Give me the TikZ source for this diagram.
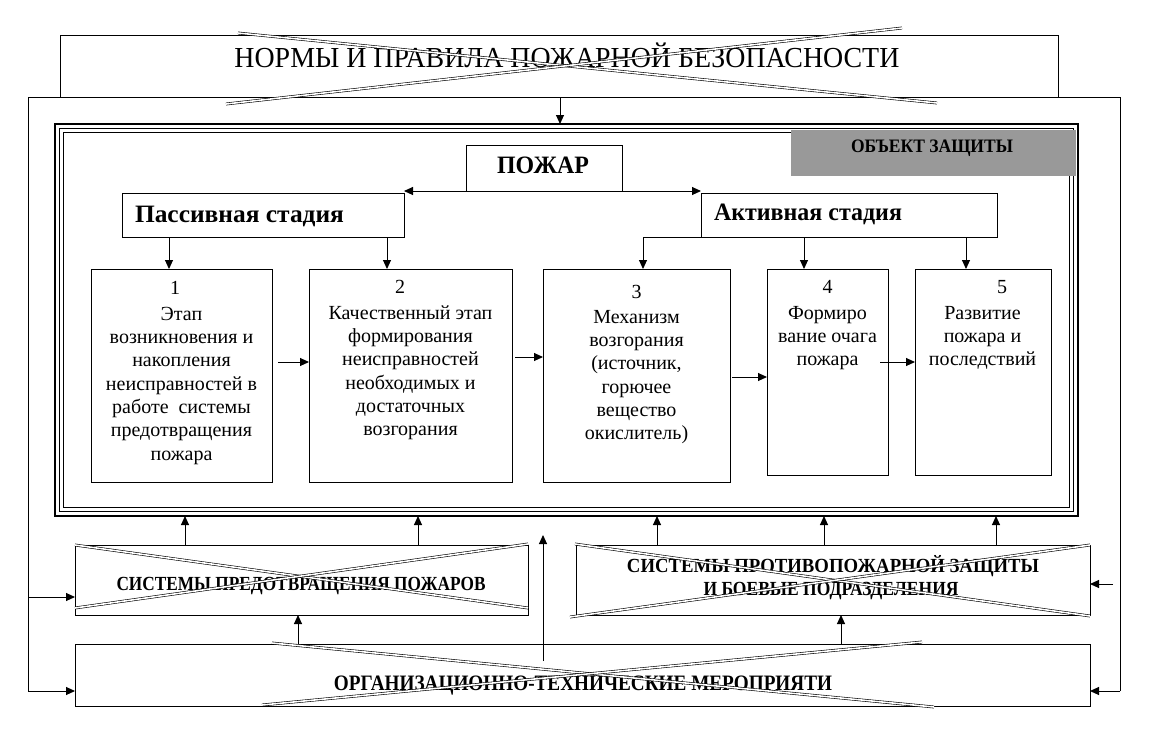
\documentclass[tikz,border=0pt]{standalone}
\usepackage{graphicx}
\usepackage{fontspec}
\setmainfont{Liberation Serif}
\usetikzlibrary{arrows.meta}
\newcommand{\fitw}[2]{\resizebox{#1}{\height}{#2}}
\definecolor{objgray}{RGB}{153,153,153}
\begin{document}
\begin{tikzpicture}[x=1pt,y=-1pt,
  every node/.style={inner sep=0pt, outer sep=0pt},
  box/.style={draw, line width=1pt, anchor=north west},
  arr/.style={line width=1pt, -{Triangle[length=9pt,width=8pt]}},
  ln/.style={line width=1pt},
  xl/.style={line width=0.6pt, double=white, double distance=1.6pt},
  btxt/.style={font=\fontsize{20}{23.3}\selectfont, align=center, anchor=north},
  lbl/.style={anchor=base, font=\bfseries\fontsize{20}{22}\selectfont},
]
\useasboundingbox (0,0) rectangle (1152,732);
\fill[white] (0,0) rectangle (1152,732);

% banner
\node[box, minimum width=998pt, minimum height=62pt] (banner) at (60,35) {};
\node[anchor=base, font=\fontsize{29}{30}\selectfont] (bannert) at (567,67)
  {\fitw{665pt}{НОРМЫ И ПРАВИЛА ПОЖАРНОЙ БЕЗОПАСНОСТИ}};

% outer frame
\coordinate (fL) at (28,691);
\coordinate (fL2) at (28,597);
\coordinate (fR) at (1120,691);
\coordinate (fTL) at (28,97);
\coordinate (fTR) at (1120,97);
\draw[ln] (fL) -- (fTL) -- (fTR) -- (fR);

% inner triple frame
\node[draw, line width=1.6pt, anchor=north west, minimum width=1023pt, minimum height=392pt] (frame) at (55,124) {};
\draw[line width=1.6pt] (59.5,128.5) rectangle (1073.5,511.5);
\draw[line width=0.6pt] (63.5,132.5) rectangle (1069.5,507.5);

\draw[arr] (560,0 |- banner.south) -- (560,0 |- frame.north);

% object box
\node[anchor=north west, fill=objgray, minimum width=285pt, minimum height=46pt] (obj) at (791,129.5) {};
\node[anchor=base, font=\bfseries\fontsize{19}{20}\selectfont] (objt) at (932,152) {\fitw{162pt}{ОБЪЕКТ ЗАЩИТЫ}};

% fire and stages
\node[box, minimum width=156pt, minimum height=46pt] (pozh) at (466,145) {};
\node[anchor=base, font=\bfseries\fontsize{25}{26}\selectfont] (pozht) at (543,173) {\fitw{92pt}{ПОЖАР}};
\node[box, minimum width=282pt, minimum height=44pt] (pass) at (122,193) {};
\node[anchor=base west, font=\bfseries\fontsize{25}{26}\selectfont] (passt) at (135,222) {\fitw{209pt}{Пассивная стадия}};
\node[box, minimum width=296pt, minimum height=44pt] (akt) at (701,193) {};
\node[anchor=base west, font=\bfseries\fontsize{25}{26}\selectfont] (aktt) at (714,220) {\fitw{188pt}{Активная стадия}};

\draw[arr] (pozh.south west) -- (pozh.south west -| pass.north east);
\draw[arr] (pozh.south east) -- (pozh.south east -| akt.north west);

% stage boxes
\node[box, minimum width=181pt, minimum height=213pt] (b1) at (91,269) {};
\node[box, minimum width=203pt, minimum height=213pt] (b2) at (309,269) {};
\node[box, minimum width=187pt, minimum height=213pt] (b3) at (543,269) {};
\node[box, minimum width=121pt, minimum height=206pt] (b4) at (767,269) {};
\node[box, minimum width=136pt, minimum height=206pt] (b5) at (915,269) {};

\node[btxt] (b1t) at (181.5,280) {\rule{0pt}{14pt}1\hspace*{13pt}\\[3pt]Этап\\возникновения и\\накопления\\неисправностей в\\работе\ \ системы\\предотвращения\\пожара};
\node[btxt] (b2t) at (410.5,279) {\rule{0pt}{14pt}2\hspace*{21pt}\\[3pt]Качественный этап\\формирования\\неисправностей\\необходимых и\\достаточных\\возгорания};
\node[btxt] (b3t) at (636.5,284) {\rule{0pt}{14pt}3\\[2pt]Механизм\\возгорания\\(источник,\\горючее\\вещество\\окислитель)};
\node[btxt] (b4t) at (827.5,279) {\rule{0pt}{14pt}4\\[3pt]Формиро\\вание очага\\пожара};
\node[btxt] (b5t) at (982.5,279) {\rule{0pt}{14pt}\hspace*{39pt}5\\[3pt]Развитие\\пожара и\\последствий};

\draw[arr] (169,0 |- pass.south) -- (169,0 |- b1.north);
\draw[arr] (387,0 |- pass.south) -- (387,0 |- b2.north);
\draw[arr] (akt.south west) -| (643,0 |- b3.north);
\draw[arr] (804,0 |- akt.south) -- (804,0 |- b4.north);
\draw[arr] (966,0 |- akt.south) -- (966,0 |- b5.north);

\coordinate (h12) at (278,362);
\coordinate (h23) at (515,357);
\coordinate (h34) at (732,377);
\coordinate (h45) at (880,362);
\draw[arr] (h12) -- (h12 -| b2.west);
\draw[arr] (h23) -- (h23 -| b3.west);
\draw[arr] (h34) -- (h34 -| b4.west);
\draw[arr] (h45) -- (h45 -| b5.west);

% bottom boxes
\node[box, minimum width=453pt, minimum height=70pt] (spp) at (75,545) {};
\node[box, minimum width=514pt, minimum height=70pt] (spz) at (576,545) {};
\node[box, minimum width=1015pt, minimum height=62pt] (org) at (75,644) {};

\node[lbl] (sppt) at (301,590) {\fitw{369pt}{СИСТЕМЫ ПРЕДОТВРАЩЕНИЯ ПОЖАРОВ}};
\node[lbl] (spzt1) at (833,572) {\fitw{412pt}{СИСТЕМЫ ПРОТИВОПОЖАРНОЙ ЗАЩИТЫ}};
\node[lbl] (spzt2) at (831,595) {\fitw{255pt}{И БОЕВЫЕ ПОДРАЗДЕЛЕНИЯ}};
\node[lbl, font=\bfseries\fontsize{22}{24}\selectfont] (orgt) at (583,690) {\fitw{498pt}{ОРГАНИЗАЦИОННО-ТЕХНИЧЕСКИЕ МЕРОПРИЯТИ}};

% arrows up to the frame
\draw[arr] (185,0 |- spp.north) -- (185,0 |- frame.south);
\draw[arr] (418,0 |- spp.north) -- (418,0 |- frame.south);
\draw[arr] (657,0 |- spz.north) -- (657,0 |- frame.south);
\draw[arr] (824,0 |- spz.north) -- (824,0 |- frame.south);
\draw[arr] (996,0 |- spz.north) -- (996,0 |- frame.south);
\draw[arr] (298,0 |- org.north) -- (298,0 |- spp.south);
\draw[arr] (841,0 |- org.north) -- (841,0 |- spz.south);
\coordinate (lb) at (543,661);
\coordinate (lt) at (543,535);
\draw[arr] (lb) -- (lt);

% side arrows
\draw[arr] (fL2) -- (fL2 -| spp.west);
\draw[arr] (fL) -- (fL -| org.west);
\draw[arr] (fR) -- (fR -| org.east);
\coordinate (rS) at (1113,584);
\draw[arr] (rS) -- (rS -| spz.east);

% crossing lines
\draw[xl] (238,33) -- (937,103);
\draw[xl] (226,104) -- (902,28);
\draw[xl] (75,545) -- (528,608);
\draw[xl] (75,608) -- (528,544);
\draw[xl] (575,544) -- (1090,616);
\draw[xl] (570,617) -- (1090,545);
\draw[xl] (272,643) -- (934,707);
\draw[xl] (262,705) -- (922,642);
\end{tikzpicture}
\end{document}
